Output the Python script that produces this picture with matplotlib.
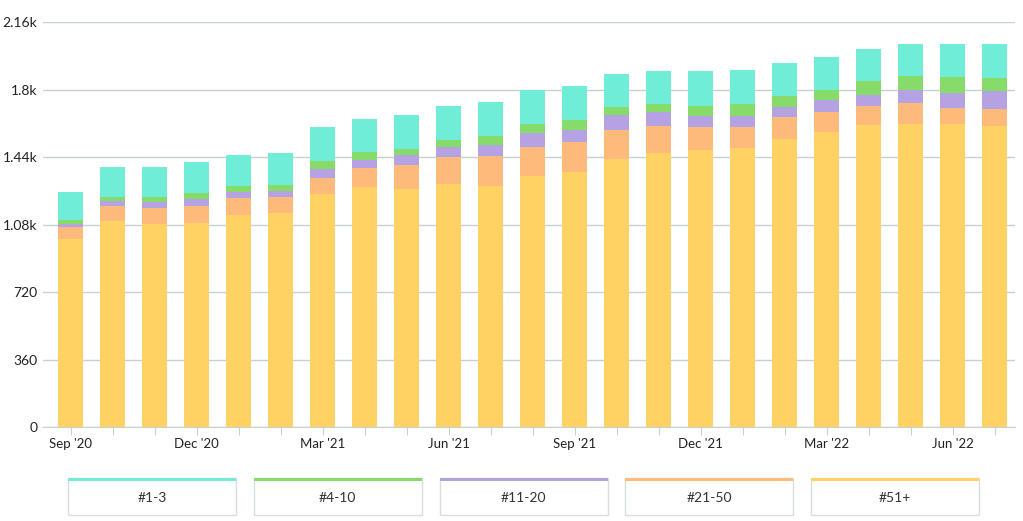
import matplotlib.pyplot as plt
from matplotlib.patches import Rectangle
import numpy as np

plt.rcParams['font.family'] = ['Lato', 'DejaVu Sans']

months = ['Sep \'20', 'Oct \'20', 'Nov \'20', 'Dec \'20', 'Jan \'21', 'Feb \'21', 'Mar \'21',
          'Apr \'21', 'May \'21', 'Jun \'21', 'Jul \'21', 'Aug \'21', 'Sep \'21', 'Oct \'21',
          'Nov \'21', 'Dec \'21', 'Jan \'22', 'Feb \'22', 'Mar \'22', 'Apr \'22', 'May \'22',
          'Jun \'22', 'Jul \'22']

rank_51_plus = [1003, 1099, 1083, 1089, 1131, 1142, 1243, 1281, 1270, 1297, 1286, 1339,
                1361, 1430, 1462, 1478, 1489, 1537, 1574, 1611, 1617, 1617, 1606]
rank_21_50 = [64, 80, 86, 90, 91, 85, 86, 101, 128, 144, 160, 155,
              160, 155, 144, 123, 112, 117, 107, 102, 112, 85, 91]
rank_11_20 = [16, 27, 32, 38, 32, 32, 48, 43, 53, 53, 59, 75,
              64, 80, 75, 58, 58, 54, 64, 59, 69, 80, 96]
rank_4_10 = [22, 21, 26, 32, 32, 32, 42, 42, 32, 37, 48, 48,
             53, 43, 43, 54, 65, 58, 53, 74, 75, 86, 69]
rank_1_3 = [149, 160, 160, 165, 165, 171, 182, 176, 182, 182, 181, 181,
            182, 176, 176, 187, 181, 176, 176, 171, 171, 176, 182]

series = [
    ('#51+', rank_51_plus, '#FFD263'),
    ('#21-50', rank_21_50, '#FDBA7B'),
    ('#11-20', rank_11_20, '#B5A2E3'),
    ('#4-10', rank_4_10, '#86DB6B'),
    ('#1-3', rank_1_3, '#70EDD6'),
]

yticks = [0, 360, 720, 1080, 1440, 1800, 2160]
ytick_labels = ['0', '360', '720', '1.08k', '1.44k', '1.8k', '2.16k']

fig = plt.figure(figsize=(10.23, 5.21), dpi=100)
ax = fig.add_axes([0.042, 0.180, 0.950, 0.777])

x = np.arange(len(months))
bottom = np.zeros(len(months))
for name, vals, col in series:
    ax.bar(x, vals, width=0.6, bottom=bottom, color=col, zorder=2)
    bottom += np.array(vals)

ax.set_ylim(0, 2160)
ax.set_xlim(-0.66, len(months) - 1 + 0.48)
ax.set_yticks(yticks)
ax.set_yticklabels(ytick_labels)
ax.grid(axis='y', color='#C8D0D0', lw=1, zorder=0)
ax.set_xticks(x)
ax.set_xticklabels([m if i % 3 == 0 else '' for i, m in enumerate(months)])

for s in ['top', 'right', 'left']:
    ax.spines[s].set_visible(False)
ax.spines['bottom'].set_color('#C8D0D0')
ax.tick_params(axis='x', length=6, color='#C8D0D0', labelsize=9.5, labelcolor='#222222', pad=2)
ax.tick_params(axis='y', length=0, labelsize=10, labelcolor='#222222', pad=4)

# legend boxes
legend_items = [('#1-3', '#70EDD6'), ('#4-10', '#86DB6B'), ('#11-20', '#B5A2E3'),
                ('#21-50', '#FDBA7B'), ('#51+', '#FFD263')]
W, H = 1023, 521
for i, (name, col) in enumerate(legend_items):
    x0 = 68 + i * 185.8
    bw = 168
    fig.patches.append(Rectangle((x0 / W, 1 - 515 / H), bw / W, 37 / H,
                                 transform=fig.transFigure, facecolor='white',
                                 edgecolor='#D8DEDE', lw=1))
    fig.patches.append(Rectangle((x0 / W, 1 - 481 / H), bw / W, 3 / H,
                                 transform=fig.transFigure, facecolor=col, edgecolor='none'))
    fig.text((x0 + bw / 2) / W, 1 - 498 / H, name, ha='center', va='center',
             fontsize=10, color='#333333')

fig.savefig('out.png', dpi=100)
